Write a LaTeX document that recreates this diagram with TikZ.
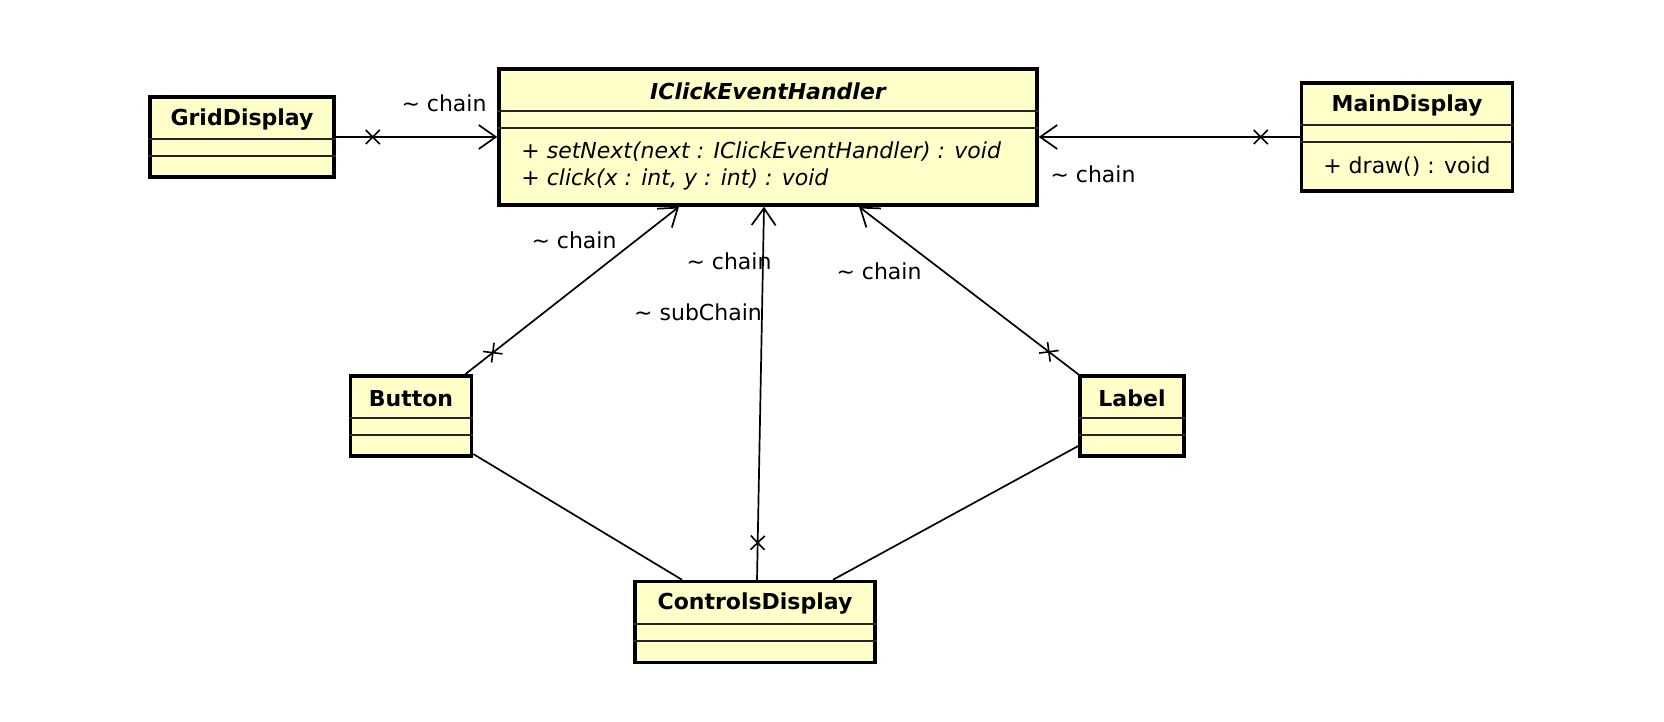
\documentclass[tikz,border=0pt]{standalone}
\usepackage{fontspec}
\setmainfont{DejaVu Sans}
\usetikzlibrary{arrows.meta, positioning, calc, decorations.markings}
\definecolor{umlyellow}{HTML}{FFFFCA}
\definecolor{sepgray}{HTML}{262626}
\tikzset{
  classbox/.style={
    rectangle, draw=black, line width=3.5pt, fill=umlyellow,
    inner sep=0pt
  },
  classname/.style={
    inner sep=0pt, font=\fontsize{22}{26}\selectfont\bfseries
  },
  member/.style={
    inner sep=0pt, font=\fontsize{22}{26}\selectfont
  },
  rolelabel/.style={
    inner sep=0pt, font=\fontsize{22}{26}\selectfont
  },
  sepline/.style={line width=1.6pt, draw=sepgray},
  assoc/.style={line width=1.7pt},
  navarrow/.style={assoc, -{Straight Barb[length=17pt, width=24pt]}},
  xmark/.style={
    postaction={decorate, decoration={markings,
      mark=at position #1 with {%
        \draw[-, line width=1.6pt] (-7pt,-7pt) -- (7pt,7pt)
                                   (-7pt,7pt) -- (7pt,-7pt);}}}
  }
}
\begin{document}
\begin{tikzpicture}[x=1pt, y=-1pt]
  \useasboundingbox (0,0) rectangle (1664,722);
  % classes
  \node[classbox, minimum width=184pt, minimum height=80pt] (grid) at (242,137) {};
  \node[classbox, minimum width=538pt, minimum height=136pt] (ick) at (768,137) {};
  \node[classbox, minimum width=211pt, minimum height=108pt] (main) at (1407,137) {};
  \node[classbox, minimum width=121pt, minimum height=80pt] (btn) at (411,416) {};
  \node[classbox, minimum width=104pt, minimum height=80pt] (lbl) at (1132,416) {};
  \node[classbox, minimum width=240pt, minimum height=81pt] (ctl) at (755,622) {};
  % names
  \foreach \n/\t in {grid/GridDisplay, main/MainDisplay, btn/Button,
                     lbl/Label, ctl/ControlsDisplay}{%
    \node[classname] (t\n) at ([yshift=-24pt]\n.north) {\t};}
  \node[classname, font=\fontsize{22}{26}\selectfont\bfseries\itshape]
    (tick) at ([yshift=-24pt]ick.north) {IClickEventHandler};
  % compartments
  \foreach \n in {grid, ick, main, btn, lbl, ctl}{%
    \draw[sepline] ([yshift=-44pt]\n.north west) -- ([yshift=-44pt]\n.north east);
    \draw[sepline] ([yshift=-61pt]\n.north west) -- ([yshift=-61pt]\n.north east);}
  % operations
  \node[member, anchor=west, font=\fontsize{22}{26}\selectfont\itshape] (ickop1)
    at ([xshift=24pt, yshift=-84pt]ick.north west)
    {+ setNext(next : IClickEventHandler) : void};
  \node[member, anchor=west, font=\fontsize{22}{26}\selectfont\itshape] (ickop2)
    at ([xshift=24pt, yshift=-112pt]ick.north west)
    {+ click(x : int, y : int) : void};
  \node[member] (mainop1) at ([yshift=-85pt]main.north) {+ draw() : void};
  % associations
  \draw[navarrow, xmark=37pt] (grid.east) -- (ick.west);
  \draw[navarrow, xmark=39pt] (main.west) -- (ick.east);
  \draw[navarrow, xmark=35pt] ([xshift=-8pt]btn.north east) -- ([xshift=-89pt]ick.south);
  \draw[navarrow, xmark=37pt] (lbl.north west) -- ([xshift=91pt]ick.south);
  \draw[navarrow, xmark=37pt] ([xshift=2pt]ctl.north) -- ([xshift=-4pt]ick.south);
  \draw[assoc] ([yshift=-38pt]btn.east) -- ([xshift=-73pt]ctl.north);
  \draw[assoc] ([yshift=-30pt]lbl.west) -- ([xshift=78pt]ctl.north);
  % role names
  \node[rolelabel] (rgrid) at (444,103) {\textasciitilde\ chain};
  \node[rolelabel] (rmain) at (1093,174) {\textasciitilde\ chain};
  \node[rolelabel] (rbtn) at (574,240) {\textasciitilde\ chain};
  \node[rolelabel] (rlbl) at (879,271) {\textasciitilde\ chain};
  \node[rolelabel] (rctl) at (729,261) {\textasciitilde\ chain};
  \node[rolelabel] (rsub) at (698,312) {\textasciitilde\ subChain};
\end{tikzpicture}
\end{document}
